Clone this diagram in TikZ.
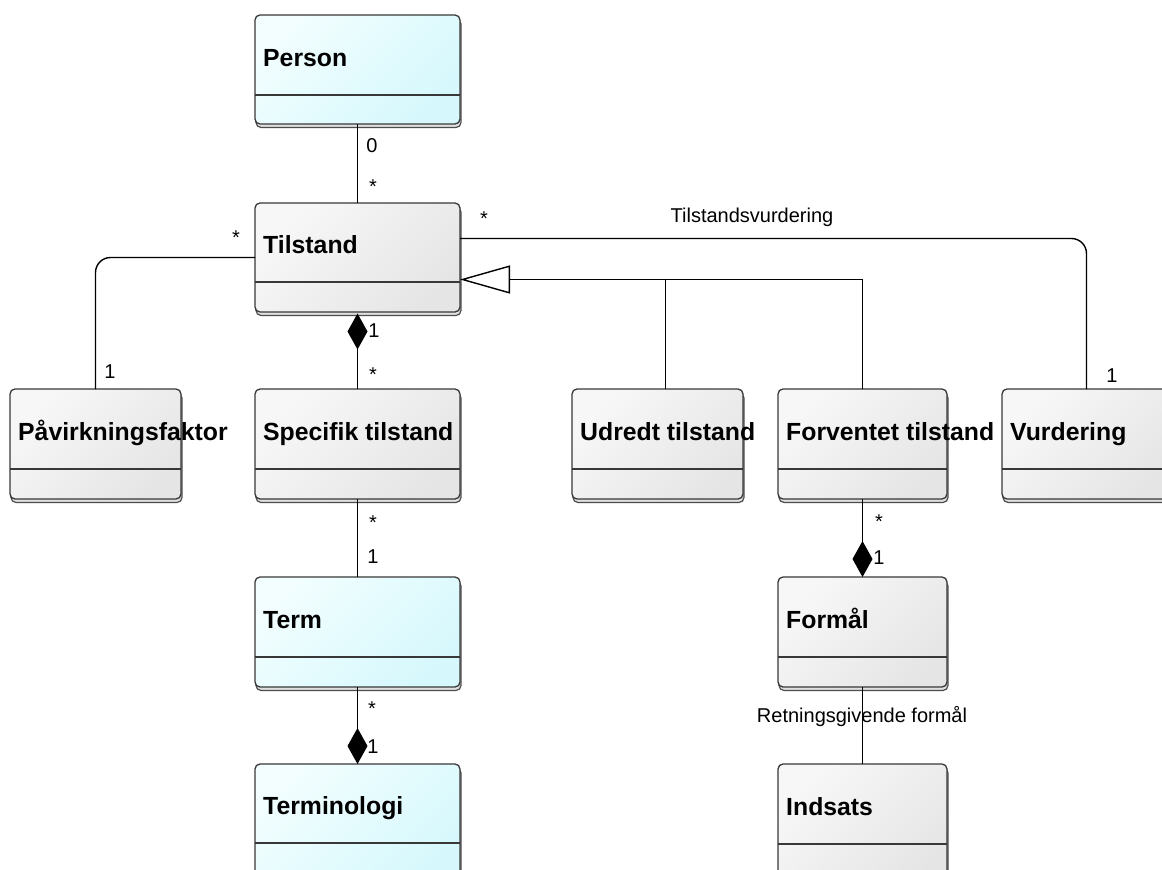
\documentclass[tikz,border=0pt]{standalone}
\usepackage{fontspec}
\setmainfont{Liberation Sans}
\usetikzlibrary{arrows.meta,calc}
\tikzset{
  cbox/.style={draw=black!78, line width=1.3pt, rounded corners=5pt, inner sep=0pt, outer sep=0pt, anchor=north west},
  gbox/.style={cbox, left color=white!97!black, right color=white!90!black, shading angle=45},
  cyanbox/.style={cbox, left color={rgb,255:red,242;green,254;blue,255}, right color={rgb,255:red,214;green,248;blue,252}, shading angle=45},
  shadowbox/.style={fill=white!88!black, draw=black!70, line width=1.2pt, rounded corners=5pt},
  divider/.style={draw=black!78, line width=1.3pt},
  cname/.style={font=\fontsize{24.8}{28}\selectfont\bfseries, inner sep=0pt, anchor=base west},
  mult/.style={font=\fontsize{20}{24}\selectfont, inner sep=0pt},
  conn/.style={draw=black, line width=1.4pt},
  comp/.style={conn, -{Diamond[length=36pt,width=20pt,fill=black]}},
  gen/.style={conn, -{Triangle[length=50pt,width=28pt,fill=white]}},
}
% name, x1, y1, x2, y2, divider y, style, text
\newcommand\umlclass[8]{%
  \path[shadowbox] (#2+1,#3+4) rectangle (#4+1,#5+3.5);
  \node[#7, minimum width={#4-#2}, minimum height={#5-#3}] (#1) at (#2,#3) {};
  \draw[divider] (#2,#6) -- (#4,#6);
  \node[cname] (#1-name) at (#2+8,{(#3+#6)/2+11}) {#8};
}
\begin{document}
\begin{tikzpicture}[x=1pt,y=-1pt]
\fill[white] (0,0) rectangle (1162,870);
\useasboundingbox (0,0) rectangle (1162,870);

\umlclass{person}{255}{15}{460}{124}{95}{cyanbox}{Person}
\umlclass{tilstand}{255}{203}{460}{312}{282}{gbox}{Tilstand}
\umlclass{paav}{10}{389}{181}{499}{469}{gbox}{Påvirkningsfaktor}
\umlclass{spec}{255}{389}{460}{499}{469}{gbox}{Specifik tilstand}
\umlclass{udredt}{572}{389}{743}{499}{469}{gbox}{Udredt tilstand}
\umlclass{forv}{778}{389}{947}{499}{469}{gbox}{Forventet tilstand}
\umlclass{vurd}{1002}{389}{1171}{499}{469}{gbox}{Vurdering}
\umlclass{term}{255}{577}{460}{687}{657}{cyanbox}{Term}
\umlclass{termi}{255}{764}{460}{885}{843}{cyanbox}{Terminologi}
\umlclass{formaal}{778}{577}{947}{687}{657}{gbox}{Formål}
\umlclass{indsats}{778}{764}{947}{885}{844}{gbox}{Indsats}

% Person -- Tilstand
\draw[conn] (person.south) -- (tilstand.north);
\node[mult] (m1) at (372,146) {0};
\node[mult] (m2) at (373,187) {*};

% Tilstand -- Paavirkningsfaktor
\draw[conn, rounded corners=15pt] (tilstand.west) -| (paav.north);
\node[mult] (m3) at (236,238) {*};
\node[mult] (m4) at (110,372) {1};

% Tilstand -- Vurdering
\draw[conn, rounded corners=15pt] ([yshift=19pt]tilstand.east) -| (vurd.north);
\node[mult] (m5) at (484,219) {*};
\node[mult] (m6) at (1112,376) {1};
\node[mult] (lbl1) at (752,217) {Tilstandsvurdering};

% Generalization
\coordinate (gtip) at ([yshift=-22pt]tilstand.east);
\coordinate (uj) at (665.5,280);
\draw[gen] (forv.north) |- (gtip);
\draw[conn] (uj |- udredt.north) -- (uj);

% Tilstand -- Specifik (composition)
\draw[conn, {Diamond[length=36pt,width=20pt,fill=black]}-] ([yshift=-1.5pt]tilstand.south) -- (spec.north);
\node[mult] (m7) at (374,331) {1};
\node[mult] (m8) at (373,375) {*};

% Specifik -- Term
\draw[conn] (spec.south) -- (term.north);
\node[mult] (m9) at (373,523) {*};
\node[mult] (m10) at (373,557) {1};

% Term -- Terminologi
\draw[comp] (term.south) -- (termi.north);
\node[mult] (m11) at (372,709) {*};
\node[mult] (m12) at (373,747) {1};

% Forventet -- Formaal
\draw[comp] (forv.south) -- (formaal.north);
\node[mult] (m13) at (879,522) {*};
\node[mult] (m14) at (879,558) {1};

% Formaal -- Indsats
\draw[conn] (formaal.south) -- (indsats.north);
\node[mult] (lbl2) at (862,717) {Retningsgivende formål};
\end{tikzpicture}
\end{document}
